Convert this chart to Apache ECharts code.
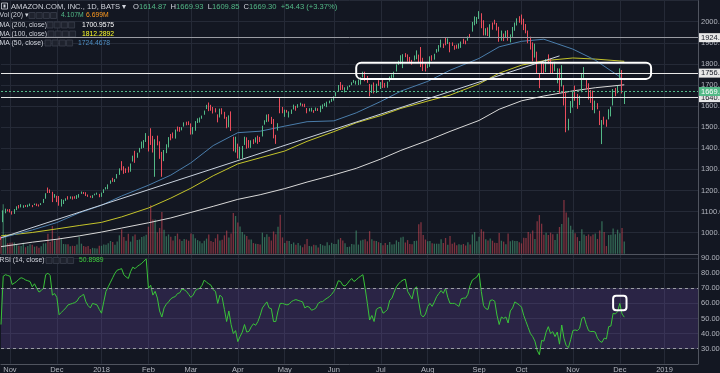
<!DOCTYPE html>
<html><head><meta charset="utf-8">
<script src="https://cdn.jsdelivr.net/npm/echarts@6/dist/echarts.min.js"></script>
<style>html,body{margin:0;padding:0;background:#131722;overflow:hidden}#c{width:720px;height:373px}</style>
</head><body><div id="c"></div>
<script>
// ---------------- DATA ----------------
const symbolTitle = 'AMAZON.COM, INC., 1D, BATS';
const startDate = '2017-10-26';
const holidays = ['2017-11-23','2017-12-25','2018-01-01','2018-01-15','2018-02-19','2018-03-30','2018-05-28','2018-07-04','2018-09-03','2018-11-22','2018-12-05'];
const monthNames = ['Jan','Feb','Mar','Apr','May','Jun','Jul','Aug','Sep','Oct','Nov','Dec'];
// daily candles: [open, close, low, high]
const candles = [
[980,972,966,982],[1058,1101,1050,1106],[1096,1111,1092,1114],[1109,1105,1101,1111],[1105,1104,1096,1112],
[1097,1094,1086,1102],[1092,1112,1089,1112],[1110,1121,1107,1125],[1124,1123,1115,1131],[1122,1133,1120,1135],
[1125,1129,1118,1130],[1127,1125,1122,1131],[1123,1129,1121,1133],[1130,1137,1126,1138],[1128,1127,1121,1131],
[1133,1137,1131,1138],[1137,1130,1126,1138],[1131,1126,1124,1134],[1133,1139,1131,1140],[1141,1156,1141,1160],
[1161,1186,1161,1187],[1202,1196,1188,1214],[1205,1194,1188,1205],[1194,1161,1145,1194],[1171,1177,1166,1183],
[1173,1162,1145,1175],[1173,1134,1128,1174],[1128,1142,1124,1159],[1138,1152,1136,1156],[1156,1160,1151,1163],
[1170,1162,1157,1173],[1163,1169,1161,1172],[1167,1165,1157,1172],[1172,1164,1161,1173],[1163,1174,1160,1178],
[1179,1179,1166,1183],[1188,1191,1184,1195],[1189,1187,1183,1193],[1191,1178,1174,1192],[1176,1175,1170,1181],
[1173,1168,1166,1175],[1168,1177,1164,1178],[1180,1182,1177,1185],[1184,1186,1180,1190],[1182,1169,1168,1184],
[1172,1189,1170,1190],[1188,1204,1188,1206],[1205,1210,1205,1216],[1218,1229,1206,1229],[1236,1247,1232,1248],
[1256,1253,1241,1260],[1245,1254,1240,1254],[1259,1277,1257,1278],[1274,1305,1274,1305],[1323,1305,1295,1339],
[1312,1295,1279,1315],[1293,1293,1283,1305],[1313,1295,1285,1313],[1297,1327,1289,1328],[1338,1363,1337,1365],
[1375,1358,1331,1388],[1369,1378,1355,1379],[1392,1402,1380,1402],[1409,1418,1398,1432],[1404,1438,1402,1439],
[1451,1451,1430,1472],[1445,1390,1385,1459],[1477,1430,1416,1495],[1403,1390,1380,1459],[1362,1443,1265,1443],
[1449,1417,1414,1460],[1425,1351,1350,1433],[1373,1340,1265,1383],[1364,1386,1339,1392],[1385,1415,1377,1419],
[1406,1451,1404,1453],[1466,1462,1438,1468],[1461,1449,1447,1475],[1446,1468,1446,1489],[1485,1483,1480,1503],
[1495,1485,1478,1501],[1496,1500,1485,1500],[1510,1522,1503,1523],[1524,1512,1509,1526],[1519,1512,1510,1528],
[1513,1493,1465,1518],[1469,1500,1466,1501],[1495,1524,1483,1529],[1533,1538,1520,1542],[1527,1545,1522,1546],
[1550,1552,1540,1555],[1564,1579,1559,1579],[1592,1598,1586,1606],[1615,1588,1576,1617],[1597,1591,1578,1606],
[1596,1582,1565,1596],[1584,1572,1570,1590],[1555,1545,1523,1561],[1550,1587,1546,1588],[1586,1582,1561,1590],
[1566,1544,1540,1573],[1540,1496,1495,1549],[1531,1556,1500,1556],[1572,1497,1482,1575],[1448,1431,1386,1455],
[1431,1447,1380,1455],[1417,1372,1352,1422],[1391,1392,1350,1408],[1359,1411,1352,1411],[1441,1452,1416,1455],
[1430,1405,1398,1452],[1426,1406,1402,1439],[1420,1436,1402,1438],[1432,1427,1420,1443],[1439,1449,1427,1452],
[1458,1431,1421,1460],[1445,1442,1430,1454],[1462,1504,1456,1507],[1514,1528,1512,1533],[1530,1557,1524,1560],
[1554,1527,1526,1562],[1546,1518,1515,1549],[1536,1460,1447,1539],[1461,1460,1421,1464],[1485,1518,1484,1519],
[1634,1573,1566,1638],[1582,1566,1566,1596],[1563,1582,1549,1583],[1581,1570,1569,1582],[1566,1572,1546,1575],
[1564,1581,1563,1584],[1589,1600,1584,1607],[1597,1592,1578,1601],[1600,1608,1592,1609],[1608,1609,1602,1616],
[1610,1603,1598,1611],[1604,1602,1595,1611],[1588,1576,1566,1591],[1580,1587,1575,1590],[1580,1582,1574,1592],
[1575,1574,1568,1581],[1585,1585,1577,1593],[1589,1581,1577,1590],[1572,1602,1571,1602],[1601,1603,1587,1608],
[1603,1610,1600,1614],[1600,1613,1595,1621],[1619,1625,1613,1626],[1624,1630,1620,1635],[1637,1642,1626,1646],
[1648,1665,1646,1666],[1672,1696,1671,1700],[1704,1696,1676,1714],[1699,1689,1677,1701],[1681,1684,1665,1689],
[1681,1689,1677,1694],[1693,1699,1690,1699],[1703,1705,1699,1713],[1713,1724,1710,1724],[1714,1716,1702,1720],
[1707,1724,1700,1726],[1709,1735,1702,1736],[1742,1750,1736,1763],[1761,1730,1718,1763],[1743,1716,1710,1743],
[1703,1663,1646,1705],[1672,1691,1662,1702],[1701,1661,1660,1712],[1672,1701,1662,1706],[1718,1700,1696,1723],
[1683,1714,1681,1714],[1724,1694,1686,1725],[1705,1700,1687,1710],[1696,1711,1687,1716],[1724,1739,1716,1740],
[1739,1743,1732,1750],[1737,1755,1735,1763],[1765,1797,1764,1798],[1804,1813,1795,1815],[1821,1822,1799,1841],
[1807,1844,1780,1846],[1849,1843,1832,1851],[1830,1813,1811,1845],[1820,1814,1808,1833],[1810,1802,1796,1819],
[1829,1829,1816,1840],[1829,1864,1822,1864],[1840,1808,1804,1844],[1876,1817,1785,1880],[1827,1779,1766,1829],
[1786,1777,1764,1801],[1784,1797,1780,1799],[1788,1834,1786,1836],[1841,1823,1815,1841],[1824,1848,1820,1848],
[1854,1862,1853,1870],[1861,1887,1858,1889],[1882,1899,1878,1915],[1888,1886,1875,1896],[1899,1896,1888,1926],
[1900,1920,1894,1921],[1903,1883,1855,1903],[1896,1887,1885,1902],[1885,1882,1867,1888],[1891,1877,1872,1891],
[1880,1883,1872,1897],[1877,1905,1876,1906],[1907,1903,1895,1919],[1910,1905,1893,1911],[1920,1928,1910,1930],
[1937,1933,1926,1942],[1954,1998,1953,1999],[1997,2002,1983,2025],[2007,2013,1990,2022],[2026,2040,2013,2050],
[2039,1995,1969,2040],[2007,1958,1935,2007],[1939,1952,1935,1969],[1971,1939,1932,1973],[1929,1987,1926,1988],
[1995,1990,1962,1996],[2000,1990,1987,2009],[1993,1970,1958,1994],[1970,1908,1905,1976],[1915,1941,1910,1958],
[1941,1926,1908,1944],[1939,1944,1927,1957],[1955,1915,1910,1960],[1904,1934,1902,1940],[1942,1975,1928,1975],
[1968,1975,1957,1996],[1994,2013,1982,2016],[2005,2003,1995,2026],[2021,2004,1986,2034],[1999,1971,1960,2014],
[1981,1953,1945,1989],[1950,1909,1898,1958],[1917,1890,1868,1929],[1874,1864,1812,1902],[1848,1870,1830,1896],
[1857,1755,1754,1858],[1724,1719,1685,1755],[1808,1789,1754,1808],[1796,1761,1752,1800],[1784,1820,1761,1823],
[1842,1832,1802,1845],[1822,1771,1755,1825],[1785,1764,1752,1809],[1784,1789,1765,1810],[1742,1769,1708,1779],
[1773,1664,1659,1778],[1704,1782,1693,1794],[1649,1643,1603,1699],[1660,1539,1476,1665],[1486,1530,1485,1540],
[1569,1598,1567,1624],[1623,1665,1593,1670],[1678,1666,1625,1697],[1658,1628,1587,1658],[1619,1643,1605,1649],
[1674,1755,1666,1756],[1755,1755,1734,1785],[1733,1712,1679,1733],[1698,1637,1631,1708],[1649,1631,1615,1677],
[1656,1599,1581,1673],[1581,1619,1566,1626],[1600,1593,1585,1614],[1578,1512,1510,1578],[1437,1495,1420,1534],
[1542,1517,1512,1550],[1517,1502,1502,1536],[1539,1581,1537,1585],[1575,1581,1551,1597],[1613,1678,1603,1681],
[1674,1674,1647,1686],[1680,1690,1661,1696],[1769,1772,1732,1779],[1757,1668,1660,1771],[1614.87,1669.30,1609.85,1669.93]
];
// daily volume, millions of shares
const volume = [
5.6,16.6,6.6,3.5,3.7,3.8,3.8,3.1,2.7,2.6, 3.7,2.2,2.6,3.2,3.0,2.4,2.5,2.0,2.5,3.5,
3.5,6.7,4.0,9.3,4.5,5.0,5.9,4.9,3.3,3.2, 3.2,2.5,2.7,2.6,3.1,5.7,3.4,2.6,2.4,2.6,
1.6,2.0,1.9,1.8,2.7,2.7,3.1,3.0,3.5,4.3, 4.0,3.0,4.1,6.2,8.2,5.6,4.4,6.7,4.1,5.9,
6.5,4.6,4.8,5.6,5.9,6.4,9.1,16.4,11.5,11.5, 7.2,8.7,14.0,8.1,5.9,6.5,5.7,4.5,6.0,6.8,
4.9,4.3,5.0,4.8,4.4,6.8,6.6,5.2,4.6,4.2, 3.5,4.4,5.1,6.5,4.3,4.0,5.2,6.6,4.5,4.7,
6.2,7.8,5.5,6.8,13.7,12.7,10.5,9.2,7.3,6.5, 6.0,4.8,4.8,3.6,3.4,3.3,3.1,7.1,5.6,6.6,
5.7,4.5,7.5,6.6,9.1,13.1,5.5,3.6,4.4,4.3, 3.3,3.8,3.0,3.6,2.8,2.2,3.2,5.0,2.6,2.5,
3.0,2.9,2.1,3.3,2.9,2.7,3.9,2.9,3.7,3.3, 3.3,4.8,5.3,4.5,3.5,2.3,2.4,3.3,3.1,7.8,
3.1,4.5,4.7,4.9,4.2,7.6,4.9,4.4,4.3,3.9, 3.6,2.9,3.6,3.0,4.0,3.1,3.2,4.5,4.0,5.5,
5.7,3.8,4.6,3.3,3.2,4.3,4.4,9.9,10.6,6.3, 4.8,4.2,4.3,3.5,3.4,3.4,3.4,4.9,3.6,5.3,
3.0,6.0,3.4,3.8,2.9,3.2,3.0,3.3,2.8,3.9, 3.1,6.5,7.3,4.2,5.7,8.2,7.5,4.9,4.5,5.1,
4.4,3.7,3.6,7.0,4.4,4.1,3.2,6.8,4.2,4.5, 4.3,4.3,3.9,3.5,5.4,5.3,7.3,6.8,7.8,5.0,
10.9,13.0,10.1,6.4,7.1,6.3,7.1,6.6,4.6,6.7, 9.0,10.0,18.1,13.9,12.2,9.4,8.1,6.9,5.6,4.3,
8.2,6.5,6.0,6.5,5.9,6.5,6.8,5.0,7.8,10.9, 7.3,2.6,6.3,6.4,8.5,6.6,8.1,6.9,8.7,4.107
];
// RSI(14)
const rsi = [
46,78,79,78.5,78,72.5,73.5,74.5,76,77, 76.5,75.5,75,74.5,71,73,70,67.5,68.5,70,
79,80,78.5,65.5,66.5,64,52.5,54,55.5,57, 59,59.5,60,60.5,61.5,64,65,66,61,58.5,
57,60,59.5,59,56,53.5,61,68,71,74, 77,80,82,82.5,83,79,77.5,76.5,81,84,
83,84.5,85.5,86.5,88,89.5,70,72,65.5,68, 63.5,55,51,57,59.5,61,63,64,64.5,
66.5,67,69.5,69,68,66,64,65.5,68.5,69.5, 70,72,75.5,74,73,72,69,68,60,65.5,
64,56,48,55,46,40,42,34.7,38,41, 46,41,41.5,44.5,46.5,45.5,48,52,57,59,
61,57,56.5,48,48,55,60,60,59.5,59, 59.5,61.2,62,62.5,62,61.5,61,57,58,57.5,
55.5,56,57,60,61,61.2,62.5,63.5,64.5,66, 68,71,75,74.5,72,
71.5,73,75,76.5,74.5,75.5,77,78,79,70, 60,49,52,48,56,57,57.5,53.5,54.5,56,
62,63.5,67.5,71,73,74.5,75.5,76,68,65.5, 63,69.5,71,61,52.5,51,53,58,60,58,
61,64.5,66.5,68.5,66.7,70,64,60,60,60, 59,58,63,63.5,63.5,66,72,75.5,76.5,77.5,
80,68,58.5,56.5,56,62,62.3,61.5,52.3,46, 51,50,51,47,
55,57,61,60,59,57.5,52,48,44,40, 38,35,29,26,35.5,35,41,44.6,40,41.3,
38,41,33,45.7,37,32,30.7,36,42,42.4, 42,43.5,50.1,51,46,42,41.3,41.5,41,37,
35,34.2,37,36.5,44.6,45,53.4,53,54.5,60, 53,50.8989
];
// moving averages read at sample dates
const maDates = ['2017-10-26','2017-11-15','2017-12-01','2017-12-15','2018-01-02','2018-01-16','2018-02-01','2018-02-15','2018-03-01','2018-03-15','2018-04-02','2018-04-16','2018-05-01','2018-05-15','2018-06-01','2018-06-15','2018-07-02','2018-07-16','2018-08-01','2018-08-15','2018-09-04','2018-09-17','2018-10-01','2018-10-15','2018-11-01','2018-11-15','2018-12-06'];
const ma50  = [975,1013,1048,1094,1130,1174,1225,1273,1331,1413,1474,1481,1505,1526,1530,1568,1622,1671,1717,1770,1826,1881,1907,1917,1870,1818,1724.47];
const ma100 = [985,1001,1018,1034,1049,1075,1117,1164,1211,1270,1326,1355,1387,1433,1479,1521,1555,1589,1624,1652,1705,1756,1794,1815,1828,1823,1812.29];
const ma200 = [934,955,969,985,1003,1022,1047,1070,1096,1125,1158,1180,1209,1240,1274,1305,1349,1390,1437,1480,1532,1585,1625,1648,1672,1687,1700.96];
// drawn annotations: rising trend line, horizontal levels, boxes
const trendDates = ['2017-10-26','2018-10-24'];
const trendPrices = [976, 1838];
const levelLines = [1924.39, 1756.31, 1640.12];
const lastPrice = 1669.30;
const ohlcLast = ['1614.87','1669.93','1609.85','1669.30'];
const changeText = '+54.43 (+3.37%)';
const volLegend = ['4.107M','6.699M'];
const maLegend = ['1700.9575','1812.2892','1724.4678'];
const rsiLegend = '50.8989';
const boxDates = ['2018-06-15','2018-12-24'];
const boxPrices = [1729, 1805];
const rsiBoxDates = ['2018-11-28','2018-12-07'];
const rsiBoxValues = [55.5, 65];

// ---------------- LAYOUT ----------------
const TOTAL_SLOTS = 313;
const UP = '#53b987', DOWN = '#eb4d5c';
const TXT = '#b2b5be', GRIDC = '#252a37', AXC = '#50545f';
const FONT = '"Liberation Sans", Arial, sans-serif';

const dates = [];
{
  let d = new Date(startDate + 'T00:00:00Z');
  while (dates.length < TOTAL_SLOTS) {
    const wd = d.getUTCDay(), s = d.toISOString().slice(0,10);
    const inData = dates.length < candles.length;
    if (wd !== 0 && wd !== 6 && !(inData && holidays.includes(s))) dates.push(s);
    d.setUTCDate(d.getUTCDate() + 1);
  }
}
const monthStart = dates.map((s,i) => i > 0 && s.slice(0,7) !== dates[i-1].slice(0,7));
const monthFn = (i) => monthStart[i];
const labelFmt = (v) => { const m = +v.slice(5,7); return m === 1 ? v.slice(0,4) : monthNames[m-1]; };
function sparse(vals){ const a = new Array(dates.length).fill(null); maDates.forEach((dt,k)=>{ const i = dates.indexOf(dt); if (i>=0) a[i] = vals[k]; }); return a; }
const volData = volume.map((v,i) => ({value: v, itemStyle: {color: candles[i][1] >= candles[i][0] ? 'rgba(83,185,135,0.5)' : 'rgba(235,77,92,0.5)'}}));

const chart = echarts.init(document.getElementById('c'), null, {renderer:'canvas', width:720, height:373});
const lvlLabel = (bg, fg) => ({show:true, position:'end', distance:1, formatter:(p)=>p.value.toFixed(2), color:fg, backgroundColor:bg, fontSize:7.5, fontFamily:FONT, padding:[1,2,0,2]});
const G = {left:1, right:22, outerBoundsMode:'none', containLabel:false};

chart.setOption({
  backgroundColor:'#131722',
  animation:false,
  grid:[
    Object.assign({top:0.6, height:253.2}, G),
    Object.assign({top:0.6, height:253.2}, G),
    Object.assign({top:243, height:120.8}, G)
  ],
  xAxis:[0,1,2].map(g => ({
    type:'category', gridIndex:g, data:dates, boundaryGap:false,
    axisLine:{show:g!==1, lineStyle:{color:AXC}},
    axisTick:{show:false},
    axisLabel:{show:g===2, interval:monthFn, formatter:labelFmt, color:TXT, fontSize:7.5, fontFamily:FONT, margin:2, hideOverlap:false},
    splitLine:{show:g!==1, interval:monthFn, lineStyle:{color:GRIDC}}
  })),
  yAxis:[
    {type:'value', gridIndex:0, position:'right', min:900, max:2100, interval:100,
     axisLine:{show:true, lineStyle:{color:AXC}}, axisTick:{show:false},
     axisLabel:{color:TXT, fontSize:7.5, fontFamily:FONT, margin:3, formatter:(v)=>v.toFixed(2), showMinLabel:false, showMaxLabel:false},
     splitLine:{lineStyle:{color:GRIDC}}},
    {type:'value', gridIndex:1, min:0, max:85, show:false},
    {type:'value', gridIndex:2, position:'right', min:20, max:100, interval:10,
     axisLine:{show:true, lineStyle:{color:AXC}}, axisTick:{show:false},
     axisLabel:{color:TXT, fontSize:7.5, fontFamily:FONT, margin:3, formatter:(v)=>v.toFixed(4), showMinLabel:false, showMaxLabel:false},
     splitLine:{lineStyle:{color:['rgba(0,0,0,0)',GRIDC,GRIDC,GRIDC,GRIDC,GRIDC,GRIDC,GRIDC,'rgba(0,0,0,0)']}}}
  ],
  series:[
    {type:'bar', xAxisIndex:1, yAxisIndex:1, data:volData, barWidth:1.3, silent:true, z:1},
    {type:'line', name:'MA200', data:sparse(ma200), connectNulls:true, showSymbol:false, symbol:'none', lineStyle:{color:'#d8d8d8', width:1}, z:2, silent:true},
    {type:'line', name:'MA100', data:sparse(ma100), connectNulls:true, showSymbol:false, symbol:'none', lineStyle:{color:'#c4c42a', width:1}, z:2, silent:true},
    {type:'line', name:'MA50', data:sparse(ma50), connectNulls:true, showSymbol:false, symbol:'none', lineStyle:{color:'#4a7dab', width:1}, z:2, silent:true},
    {type:'candlestick', xAxisIndex:0, yAxisIndex:0, data:candles, barWidth:1, z:3,
     itemStyle:{color:UP, color0:DOWN, borderColor:UP, borderColor0:DOWN, borderWidth:1},
     markLine:{symbol:'none', silent:true, animation:false, precision:2,
       data:[
         {yAxis:levelLines[0], lineStyle:{color:'#9a9ca3', width:1, type:'solid'}, label:lvlLabel('#e8e8e8','#131722')},
         {yAxis:levelLines[1], lineStyle:{color:'#e8e8e8', width:1.2, type:'solid'}, label:lvlLabel('#e8e8e8','#131722')},
         {yAxis:levelLines[2], lineStyle:{color:'#e8e8e8', width:1.2, type:'solid'}, label:lvlLabel('#e8e8e8','#131722')},
         {yAxis:lastPrice, lineStyle:{color:UP, width:1, type:[2,2]}, label:lvlLabel(UP,'#ffffff')},
         [{coord:[dates.indexOf(trendDates[0]), trendPrices[0]], lineStyle:{color:'#c9d2de', width:1, type:'solid'}, label:{show:false}},
          {coord:[dates.indexOf(trendDates[1]), trendPrices[1]]}]
       ]}},
    {type:'line', name:'RSI', xAxisIndex:2, yAxisIndex:2, data:rsi, showSymbol:false, symbol:'none', lineStyle:{color:'#39c339', width:1}, z:3, silent:true,
     markArea:{silent:true, itemStyle:{color:'rgba(126,87,194,0.22)'}, data:[[{yAxis:30},{yAxis:70}]]},
     markLine:{symbol:'none', silent:true, label:{show:false}, lineStyle:{color:'#9a9ca3', type:[3,3], width:1}, data:[{yAxis:30},{yAxis:70}]}}
  ]
});

// ---------- legend texts & annotations ----------
const px = (g, d, v) => chart.convertToPixel({gridIndex:g}, [dates.indexOf(d), v]);
const b1 = px(0, boxDates[0], boxPrices[1]), b2 = px(0, boxDates[1], boxPrices[0]);
const r1 = px(2, rsiBoxDates[0], rsiBoxValues[1]), r2 = px(2, rsiBoxDates[1], rsiBoxValues[0]);
function boxes(x0, y){ const a=[]; for(let k=0;k<4;k++) a.push({type:'rect', shape:{x:x0+k*7.2, y:y-3, width:6, height:6}, style:{fill:'#1e222d', stroke:'#3a3f4b', lineWidth:0.8}, silent:true}); return a; }
function txt(x, y, text, fill, size){ return {type:'text', x, y, style:{text, fill, font:(size||6.8)+'px '+FONT, verticalAlign:'middle'}, silent:true}; }
const LBL = '#d1d4dc';
const els = [
  {type:'rect', shape:{x:1.5, y:3, width:6, height:6}, style:{fill:'none', stroke:LBL, lineWidth:0.8}},
  {type:'rect', shape:{x:3.5, y:4.5, width:2, height:3}, style:{fill:LBL}},
  txt(11, 6.5, symbolTitle + ' \u25BE', LBL, 7.6),
  {type:'text', x:133, y:6.5, style:{text:'{l|O}{v|'+ohlcLast[0]+'}  {l|H}{v|'+ohlcLast[1]+'}  {l|L}{v|'+ohlcLast[2]+'}  {l|C}{v|'+ohlcLast[3]+'}  {v|'+changeText+'}', font:'7.6px '+FONT, verticalAlign:'middle', rich:{l:{fill:LBL, font:'7.6px '+FONT}, v:{fill:UP, font:'7.6px '+FONT}}}},
  txt(-0.5, 15.5, 'Vol (20) \u25BE', LBL), ...boxes(29, 15.5), txt(61, 15.5, volLegend[0], UP), txt(86, 15.5, volLegend[1], '#ff9a1f'),
  txt(-0.5, 25, 'MA (200, close) \u25BE', LBL), ...boxes(47, 25), txt(82, 25, maLegend[0], '#ffffff'),
  txt(-0.5, 34, 'MA (100, close) \u25BE', LBL), ...boxes(48, 34), txt(82, 34, maLegend[1], '#ffff2a'),
  txt(-0.5, 43, 'MA (50, close) \u25BE', LBL), ...boxes(45, 43), txt(78, 43, maLegend[2], '#4e8fc4'),
  txt(-0.5, 260.5, 'RSI (14, close) \u25BE', LBL), ...boxes(46, 260.5), txt(79, 260.5, rsiLegend, '#3fd13f'),
  {type:'rect', shape:{x:b1[0], y:b1[1], width:b2[0]-b1[0], height:b2[1]-b1[1], r:5}, style:{fill:'none', stroke:'#ffffff', lineWidth:2}, z:10},
  {type:'rect', shape:{x:r1[0], y:r1[1], width:r2[0]-r1[0], height:r2[1]-r1[1], r:3}, style:{fill:'none', stroke:'#ffffff', lineWidth:2}, z:10}
];
chart.setOption({graphic:{elements:els}});
</script>
</body></html>
